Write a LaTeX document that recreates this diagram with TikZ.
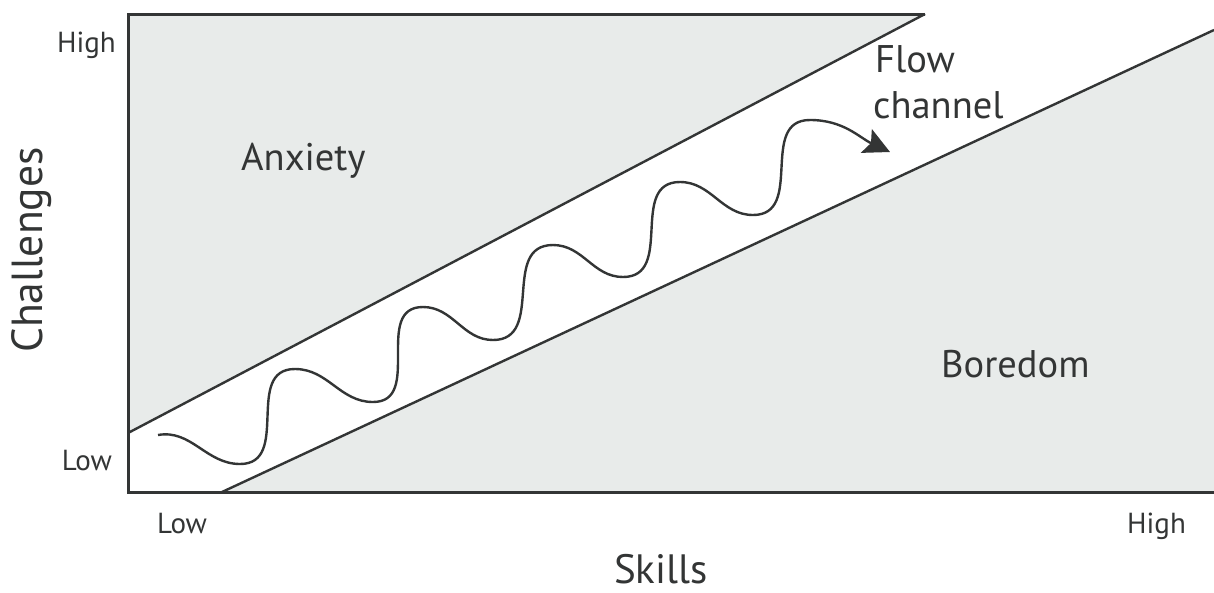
\documentclass[tikz,border=0pt]{standalone}
\usepackage{fontspec}
\setmainfont{PT Sans}
\usetikzlibrary{arrows.meta}
\definecolor{zonegrey}{HTML}{E8EBEA}
\definecolor{ink}{HTML}{333535}
\tikzset{
  axisline/.style={draw=ink, line width=3pt},
  channelline/.style={draw=ink, line width=2.4pt},
  waveline/.style={draw=ink, line width=2.4pt, -{Stealth[length=26pt,width=26pt,inset=5pt]}},
  ticklabel/.style={text=ink, inner sep=0pt, font=\fontsize{29}{32}\selectfont},
  zonelabel/.style={text=ink, inner sep=0pt, font=\fontsize{38.5}{46}\selectfont},
  axistitle/.style={text=ink, inner sep=0pt, font=\fontsize{41}{48}\selectfont},
}
\begin{document}
\begin{tikzpicture}[x=1pt,y=-1pt]
\useasboundingbox (0,0) rectangle (1214,592);
% corner coordinates
\coordinate (tl) at (128,14);
\coordinate (bl) at (128,492);
\coordinate (br) at (1214,492);
\coordinate (tr) at (1214,14);
\coordinate (upA) at (128,433);
\coordinate (upB) at (925,14);
\coordinate (loA) at (222,492);
\coordinate (loB) at (1214,30);
% zones
\fill[zonegrey] (tl) rectangle (br);
\fill[white] (upA) -- (upB) -- (tr) -- (loB) -- (loA) -- (bl) -- cycle;
\fill[white] (upB) -- (1214,0) -- (tr) -- cycle;
% channel borders
\draw[channelline] (upA) -- (upB);
\draw[channelline] (loA) -- (loB);
% axes
\draw[axisline] (upB) -- (tl) -- (bl) -- (br);
% wave
\coordinate (w0) at (158,435);
\draw[waveline] (w0) to[out=10,in=180] (240,464)
  to[out=0,in=180,looseness=1.2] (295,369)
  to[out=0,in=180] (373,402)
  to[out=0,in=180,looseness=1.2] (423,307)
  to[out=0,in=180] (493,340)
  to[out=0,in=180,looseness=1.2] (553,245)
  to[out=0,in=180] (623,277)
  to[out=0,in=180,looseness=1.2] (680,182)
  to[out=0,in=180] (753,215)
  to[out=0,in=180,looseness=1.2] (810,120)
  to[out=0,in=155] (890,152);
% labels
\node[ticklabel, anchor=base east] (yhigh) at (116,52) {High};
\node[ticklabel, anchor=base east] (ylow) at (112,470) {Low};
\node[ticklabel, anchor=base west] (xlow) at (157,533) {Low};
\node[ticklabel, anchor=base west] (xhigh) at (1127,533) {High};
\node[axistitle, anchor=base west] (skills) at (614,583) {Skills};
\node[axistitle, anchor=base, rotate=90, font=\fontsize{43.5}{48}\selectfont] (chal) at (42,250) {Challenges};
\node[zonelabel, anchor=base west] (anx) at (241,170) {Anxiety};
\node[zonelabel, anchor=base west] (bor) at (941,377) {Boredom};
\node[zonelabel, anchor=base west] (flow) at (875,72) {Flow};
\node[zonelabel, anchor=base west] (chan) at (873,118) {channel};
\end{tikzpicture}
\end{document}
